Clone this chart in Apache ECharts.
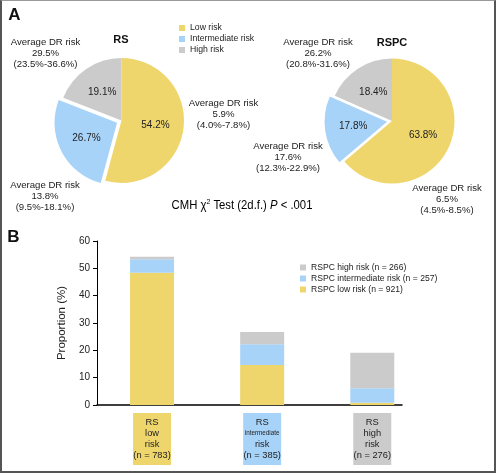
<!DOCTYPE html>
<html><head><meta charset="utf-8">
<script src="https://cdn.jsdelivr.net/npm/echarts@6/dist/echarts.min.js"></script>
<style>
html,body{margin:0;padding:0;background:#fff}
#wrap{position:relative;width:496px;height:473px}
#c{width:496px;height:473px}
#frame{position:absolute;left:0;top:0;width:496px;height:473px;box-sizing:border-box;border:2px solid #555;border-top:1px solid #999;pointer-events:none}
</style>
</head><body>
<div id="wrap"><div id="c"></div><div id="frame"></div></div>
<script>
// ---- data ----
const riskNames = ['Low risk', 'Intermediate risk', 'High risk'];
const rsShares = [54.2, 26.7, 19.1];
const rspcShares = [63.8, 17.8, 18.4];
const rsDrRisk = ['5.9%', '13.8%', '29.5%'];
const rsDrCI = ['(4.0%-7.8%)', '(9.5%-18.1%)', '(23.5%-36.6%)'];
const rspcDrRisk = ['6.5%', '17.6%', '26.2%'];
const rspcDrCI = ['(4.5%-8.5%)', '(12.3%-22.9%)', '(20.8%-31.6%)'];
const testText = ['CMH χ', '2', ' Test (2d.f.) ', 'P', ' < .001'];

const barGroups = [
  ['RS', 'low', 'risk', '(n = 783)'],
  ['RS', 'intermediate', 'risk', '(n = 385)'],
  ['RS', 'high', 'risk', '(n = 276)']
];
const barSeriesNames = ['RSPC low risk (n = 921)', 'RSPC intermediate risk (n = 257)', 'RSPC high risk (n = 266)'];
const rspcLow = [48.4, 14.6, 0.8];
const rspcInt = [4.9, 7.6, 5.3];
const rspcHigh = [0.9, 4.5, 13.0];
const yMin = 0, yMax = 60, yStep = 10;
const yAxisName = 'Proportion (%)';

// ---- styles ----
const colors = ['#EED66D', '#A8D3F9', '#CBCBCB'];
const FONT = '"Liberation Sans", Arial, sans-serif';
const TXT = '#222';

function pieSeries(name, shares, center) {
  return {
    type: 'pie', name: name, center: center, radius: 62.5,
    startAngle: 90, clockwise: true, selectedMode: 'single', selectedOffset: 5,
    animation: false, silent: true,
    label: { position: 'inside', formatter: p => p.value.toFixed(1) + '%', fontSize: 10, fontFamily: FONT, color: TXT },
    labelLine: { show: false },
    itemStyle: { borderWidth: 0 },
    emphasis: { disabled: true },
    select: { itemStyle: { borderWidth: 0 } },
    data: shares.map((v, i) => ({ name: riskNames[i], value: v, selected: i === 1, itemStyle: { color: colors[i] } }))
  };
}

function drText(x, y, risk, ci) {
  return { type: 'text', x: x, y: y, silent: true,
    style: { text: 'Average DR risk\n' + risk + '\n' + ci, font: '9.6px ' + FONT, fill: TXT,
      align: 'center', verticalAlign: 'middle', lineHeight: 11 } };
}
function plainText(x, y, txt, font) {
  return { type: 'text', x: x, y: y, silent: true,
    style: { text: txt, font: font, fill: '#111', align: 'center', verticalAlign: 'middle' } };
}

// axis-label rich styles for the coloured boxes
const rich = {};
colors.forEach((c, i) => {
  rich['t' + i] = { width: 38, height: 11, lineHeight: 11, backgroundColor: c, align: 'center', fontSize: 9.3, fontFamily: FONT, color: TXT };
  rich['s' + i] = { width: 38, height: 11, lineHeight: 11, backgroundColor: c, align: 'center', fontSize: 6.3, fontFamily: FONT, color: TXT };
  rich['p' + i] = { width: 38, height: 4, lineHeight: 4, backgroundColor: c, align: 'center', fontSize: 4, color: c };
});
function boxLabel(v) {
  if (!Number.isInteger(v) || v < 0 || v >= barGroups.length) return '';
  const lines = barGroups[v];
  const out = ['{p' + v + '| }'];
  lines.forEach(l => out.push('{' + (l.length > 10 ? 's' : 't') + v + '|' + l + '}'));
  out.push('{p' + v + '| }');
  return out.join('\n');
}

const barData = [rspcLow, rspcInt, rspcHigh];

const option = {
  backgroundColor: '#fff',
  animation: false,
  textStyle: { fontFamily: FONT },
  legend: [
    { left: 179, top: 22.5, orient: 'vertical', icon: 'rect', itemWidth: 6, itemHeight: 6, itemGap: 0, padding: 0,
      selectedMode: false, data: riskNames,
      textStyle: { fontSize: 8.7, lineHeight: 11, color: TXT, fontFamily: FONT } },
    { left: 300, top: 262, orient: 'vertical', icon: 'rect', itemWidth: 6, itemHeight: 6, itemGap: 0, padding: 0,
      selectedMode: false, data: barSeriesNames.slice().reverse(),
      textStyle: { fontSize: 8.6, lineHeight: 11, color: TXT, fontFamily: FONT } }
  ],
  grid: { left: 97, top: 241, width: 305, height: 164 },
  xAxis: {
    type: 'value', min: -0.5, max: 2.27, interval: 0.5,
    axisLine: { show: true, onZero: false, lineStyle: { color: '#000', width: 1.5 } },
    axisTick: { show: false }, splitLine: { show: false },
    axisLabel: { show: true, showMinLabel: false, showMaxLabel: false, margin: 8, formatter: boxLabel, rich: rich }
  },
  yAxis: {
    type: 'value', min: yMin, max: yMax, interval: yStep,
    name: yAxisName, nameLocation: 'middle', nameGap: 28, nameRotate: 90,
    nameTextStyle: { fontSize: 11.5, fontFamily: FONT, color: TXT },
    axisLine: { show: true, onZero: false, lineStyle: { color: '#000', width: 1 } },
    axisTick: { show: true, length: 4, lineStyle: { color: '#000' } },
    splitLine: { show: false },
    axisLabel: { fontSize: 10, fontFamily: FONT, color: TXT, margin: 7 }
  },
  series: [
    pieSeries('RS', rsShares, [121.5, 120.5]),
    pieSeries('RSPC', rspcShares, [392, 121])
  ].concat(barData.map((arr, k) => ({
    type: 'bar', name: barSeriesNames[k], stack: 'rspc', barWidth: 44,
    itemStyle: { color: colors[k] }, silent: true,
    encode: { x: 1, y: 0 },
    data: arr.map((v, i) => [v, i])
  }))),
  graphic: [
    plainText(14.5, 15.5, 'A', 'bold 17px ' + FONT),
    plainText(13.5, 237.5, 'B', 'bold 17px ' + FONT),
    plainText(121, 40, 'RS', 'bold 11px ' + FONT),
    plainText(392, 43, 'RSPC', 'bold 11px ' + FONT),
    drText(223.5, 114, rsDrRisk[0], rsDrCI[0]),
    drText(45, 196, rsDrRisk[1], rsDrCI[1]),
    drText(45.5, 53, rsDrRisk[2], rsDrCI[2]),
    drText(447, 199.5, rspcDrRisk[0], rspcDrCI[0]),
    drText(288, 157, rspcDrRisk[1], rspcDrCI[1]),
    drText(318, 53, rspcDrRisk[2], rspcDrCI[2]),
    { type: 'text', x: 242, y: 205, scaleX: 0.87, silent: true,
      style: {
        text: '{a|' + testText[0] + '}{s|' + testText[1] + '}{a|' + testText[2] + '}{i|' + testText[3] + '}{a|' + testText[4] + '}',
        align: 'center', verticalAlign: 'middle',
        rich: {
          a: { fontSize: 13, fontFamily: FONT, color: '#111', lineHeight: 15 },
          s: { fontSize: 8, fontFamily: FONT, color: '#111', lineHeight: 15, verticalAlign: 'top' },
          i: { fontSize: 13, fontFamily: FONT, fontStyle: 'italic', color: '#111', lineHeight: 15 }
        }
      } }
  ]
};

const chart = echarts.init(document.getElementById('c'), null, { renderer: 'canvas' });
chart.setOption(option);
</script>
</body></html>
